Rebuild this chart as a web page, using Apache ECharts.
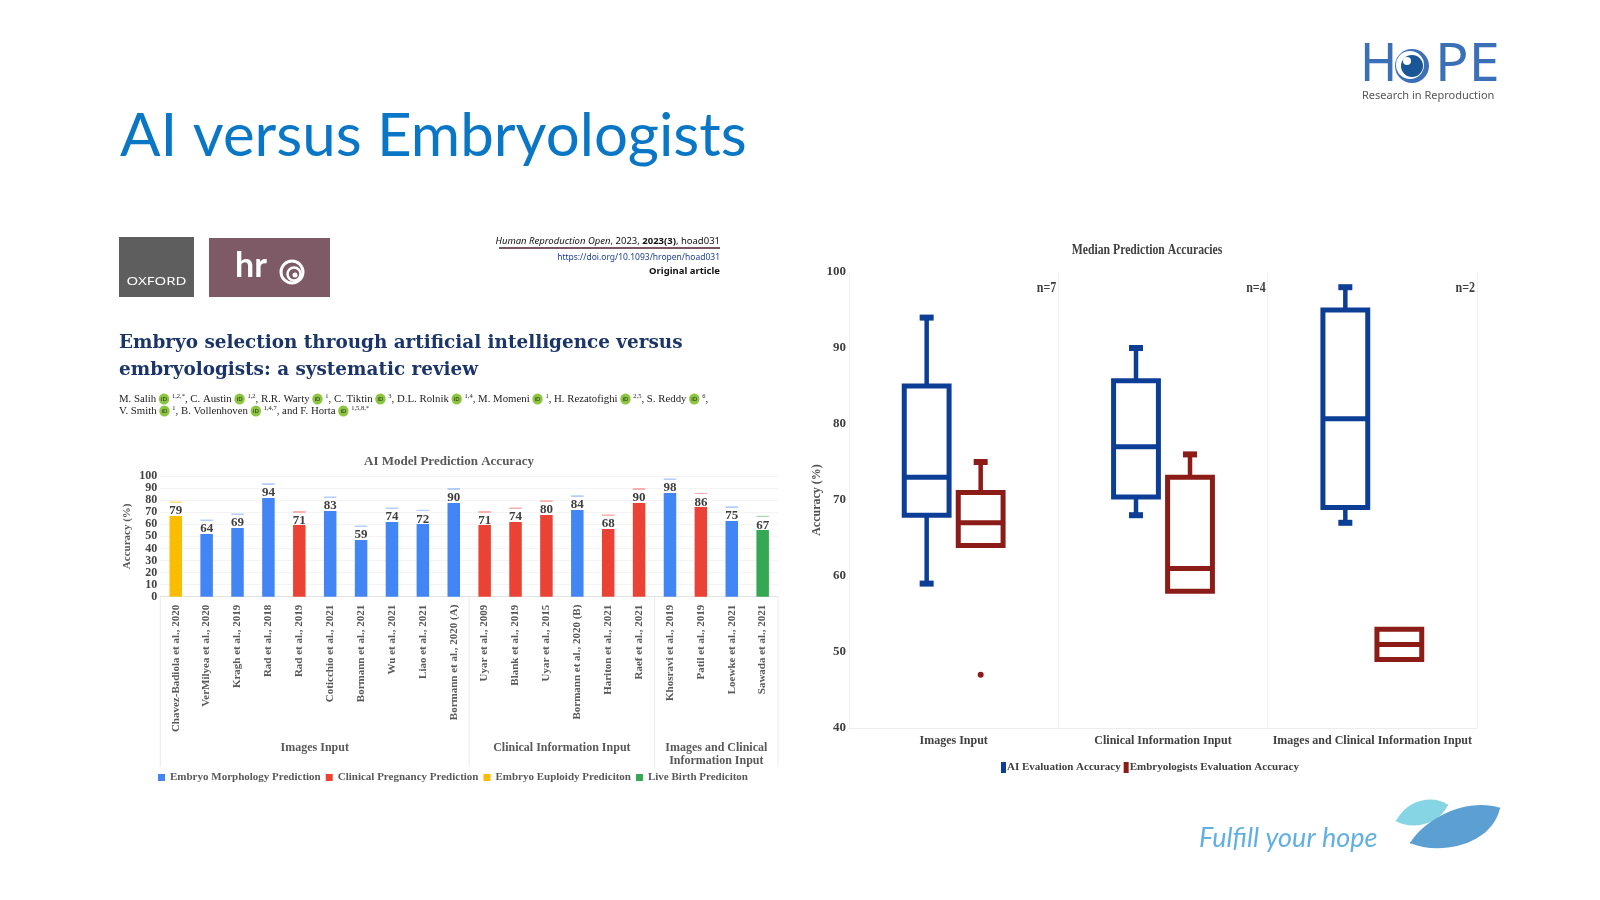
<!DOCTYPE html>
<html><head><meta charset="utf-8">
<script src="https://cdn.jsdelivr.net/npm/echarts@6/dist/echarts.min.js"></script>
<style>html,body{margin:0;padding:0;background:#fff}#c{width:1600px;height:900px}</style>
</head><body><div id="c"></div>
<script>
// ---------- DATA ----------
const studies = ['Chavez-Badiola et al., 2020','VerMilyea et al., 2020','Kragh et al., 2019','Rad et al., 2018','Rad et al., 2019','Coticchio et al., 2021','Bormann et al., 2021','Wu et al., 2021','Liao et al., 2021','Bormann et al., 2020 (A)','Uyar et al., 2009','Blank et al., 2019','Uyar et al., 2015','Bormann et al., 2020 (B)','Hariton et al., 2021','Raef et al., 2021','Khosravi et al., 2019','Patil et al., 2019','Loewke et al., 2021','Sawada et al., 2021'];
const accuracy = [79,64,69,94,71,83,59,74,72,90,71,74,80,84,68,90,98,86,75,67];
// 0 morphology, 1 clinical pregnancy, 2 euploidy, 3 live birth
const predictionType = [2,0,0,0,1,0,0,0,0,0,1,1,1,0,1,1,0,1,0,3];
const predictionNames = ['Embryo Morphology Prediction','Clinical Pregnancy Prediction','Embryo Euploidy Prediciton','Live Birth Prediciton'];
const inputGroups = ['Images Input','Clinical Information Input','Images and Clinical\nInformation Input'];
const groupRanges = [[0,9],[10,15],[16,19]];

const boxCategories = ['Images Input','Clinical Information Input','Images and Clinical Information Input'];
// [min, Q1, median, Q3, max]
const aiBox  = [[59,68,73,85,94],[68,70.4,77,85.7,90],[67,69,80.7,95,98]];
const embBox = [[64,64,67,71,75],[58,58,61,73,76],[49,49,51,53,53]];
const embOutliers = [[0,47]];
const sampleSizes = ['n=7','n=4','n=2'];

// ---------- STYLE ----------
const SERIF = "'Liberation Serif','Times New Roman',serif";
const typeColors = ['#4285F4','#EA4335','#FBBC04','#34A853'];
const typeLight  = ['#b3cefb','#f6b1ab','#fde293','#a8dab5'];
const AI_COLOR = '#0c3e96', EMB_COLOR = '#8b1c17';
const GAP = 12;

const chart = echarts.init(document.getElementById('c'), null, {renderer:'canvas', width:1600, height:900});

const barSeries = predictionNames.map((name, t) => ({
  type:'bar', name, xAxisIndex:0, yAxisIndex:0, barWidth:12.5, barGap:'-100%',
  data: accuracy.map((v,i) => predictionType[i] === t ? v : null),
  itemStyle: { color: p => new echarts.graphic.LinearGradient(0,0,0,1,[
    {offset:0, color:typeLight[t]}, {offset:1.3/p.value, color:typeLight[t]},
    {offset:1.3/p.value, color:'rgba(255,255,255,0)'}, {offset:GAP/p.value, color:'rgba(255,255,255,0)'},
    {offset:GAP/p.value, color:typeColors[t]}, {offset:1, color:typeColors[t]}]) },
  label: {show:true, position:'insideTop', distance:3, color:'#3f3f3f', fontFamily:SERIF, fontWeight:'bold', fontSize:13},
  emphasis:{disabled:true}
}));

function makeBoxRender(side, color) {
  return function (params, api) {
    const i = api.value(0);
    const band = api.size([1,0])[0];
    const cx = api.coord([i, api.value(3)])[0] + side * band * 0.129;
    const half = band * 0.119, lw = 5, capW = 14, capH = 6;
    const y = k => api.coord([i, api.value(k)])[1];
    const yMin = y(1), yQ1 = y(2), yMed = y(3), yQ3 = y(4), yMax = y(5);
    const ch = [];
    if (yMax < yQ3 - 1) {
      ch.push({type:'line', shape:{x1:cx,y1:yQ3,x2:cx,y2:yMax}, style:{stroke:color,lineWidth:4.5}});
      ch.push({type:'rect', shape:{x:cx-capW/2,y:yMax-capH/2,width:capW,height:capH}, style:{fill:color}});
    }
    if (yMin > yQ1 + 1) {
      ch.push({type:'line', shape:{x1:cx,y1:yQ1,x2:cx,y2:yMin}, style:{stroke:color,lineWidth:4.5}});
      ch.push({type:'rect', shape:{x:cx-capW/2,y:yMin-capH/2,width:capW,height:capH}, style:{fill:color}});
    }
    ch.push({type:'rect', shape:{x:cx-half+lw/2, y:yQ3, width:2*half-lw, height:yQ1-yQ3}, style:{fill:'none', stroke:color, lineWidth:lw}});
    ch.push({type:'line', shape:{x1:cx-half+lw/2, y1:yMed, x2:cx+half-lw/2, y2:yMed}, style:{stroke:color, lineWidth:lw}});
    return {type:'group', children:ch};
  };
}
function outlierRender(params, api) {
  const i = api.value(0);
  const band = api.size([1,0])[0];
  const p = api.coord([i, api.value(1)]);
  return {type:'circle', shape:{cx:p[0] + band*0.129, cy:p[1], r:3}, style:{fill:EMB_COLOR}};
}

const option = {
  backgroundColor:'#fff',
  animation:false,
  legend:[
    {data: predictionNames.map((n,t)=>({name:n, itemStyle:{color:typeColors[t]}})), left:153, top:767, icon:'rect', itemWidth:7, itemHeight:7, itemGap:5,
     textStyle:{fontFamily:SERIF, fontWeight:'bold', fontSize:11, color:'#595959'}, selectedMode:false},
    {data:[{name:'AI Evaluation Accuracy', itemStyle:{color:AI_COLOR}},{name:'Embryologists Evaluation Accuracy', itemStyle:{color:EMB_COLOR}}],
     left:996, top:757, icon:'rect', itemWidth:5, itemHeight:11, itemGap:3,
     textStyle:{fontFamily:SERIF, fontWeight:'bold', fontSize:11, color:'#404040', padding:[0,0,0,-4]}, selectedMode:false}
  ],
  grid:[
    {left:160.3, right:821.9, top:476, bottom:303.3},
    {left:849, right:123, top:272, bottom:172}
  ],
  xAxis:[
    {gridIndex:0, type:'category', data:studies, axisTick:{show:false}, axisLine:{lineStyle:{color:'#e3e3e3'}},
     axisLabel:{interval:0, rotate:90, margin:8, fontFamily:SERIF, fontWeight:'bold', fontSize:11, color:'#595959'}},
    {gridIndex:1, type:'category', data:boxCategories, axisTick:{show:false}, axisLine:{lineStyle:{color:'#ececec'}},
     splitLine:{show:true, lineStyle:{color:'#f1f1f1'}},
     axisLabel:{interval:0, margin:7, fontFamily:SERIF, fontWeight:'bold', fontSize:12, color:'#404040'}}
  ],
  yAxis:[
    {gridIndex:0, type:'value', min:0, max:100, interval:10, axisLine:{show:false}, axisTick:{show:false},
     splitLine:{lineStyle:{color:'#f4f4f4'}},
     axisLabel:{margin:3, fontFamily:SERIF, fontWeight:'bold', fontSize:12, color:'#434343'},
     name:'Accuracy (%)', nameLocation:'middle', nameGap:28,
     nameTextStyle:{fontFamily:SERIF, fontWeight:'bold', fontSize:11, color:'#595959'}},
    {gridIndex:1, type:'value', min:40, max:100, interval:10, axisLine:{show:false}, axisTick:{show:false},
     splitLine:{show:false},
     axisLabel:{margin:3, fontFamily:SERIF, fontWeight:'bold', fontSize:13, color:'#404040'},
     name:'Accuracy (%)', nameLocation:'middle', nameGap:20,
     nameTextStyle:{fontFamily:SERIF, fontWeight:'bold', fontSize:12, color:'#505050'}}
  ],
  series: barSeries.concat([
    {type:'custom', name:'AI Evaluation Accuracy', xAxisIndex:1, yAxisIndex:1, renderItem:makeBoxRender(-1, AI_COLOR),
     data: aiBox.map((b,i)=>[i].concat(b)), encode:{x:0, y:[1,2,3,4,5]}, itemStyle:{color:AI_COLOR}, z:3},
    {type:'custom', name:'Embryologists Evaluation Accuracy', xAxisIndex:1, yAxisIndex:1, renderItem:makeBoxRender(1, EMB_COLOR),
     data: embBox.map((b,i)=>[i].concat(b)), encode:{x:0, y:[1,2,3,4,5]}, itemStyle:{color:EMB_COLOR}, z:3},
    {type:'custom', name:'Embryologists Evaluation Accuracy', xAxisIndex:1, yAxisIndex:1, renderItem:outlierRender,
     data: embOutliers, encode:{x:0, y:1}, itemStyle:{color:EMB_COLOR}, z:3}
  ])
};
chart.setOption(option);

// ---------- positioned decorations ----------
const px0 = i => chart.convertToPixel({xAxisIndex:0}, i);
const band0 = px0(1) - px0(0);
const axisY0 = chart.convertToPixel({yAxisIndex:0}, 0);
const px1 = i => chart.convertToPixel({xAxisIndex:1}, i);
const band1 = px1(1) - px1(0);
const nY = chart.convertToPixel({yAxisIndex:1}, 97.9);

const g = [];
const sepX = groupRanges.map(r => px0(r[0]) - band0/2).concat([px0(groupRanges[2][1]) + band0/2]);
sepX.forEach((x,k) => g.push({type:'line', id:'sep'+k, shape:{x1:x,y1:axisY0,x2:x,y2:767}, style:{stroke:'#ececec', lineWidth:1}, silent:true}));
groupRanges.forEach((r,k) => g.push({type:'text', id:'grp'+k, style:{text:inputGroups[k], x:(px0(r[0])+px0(r[1]))/2, y:741, align:'center', verticalAlign:'top',
  font:"bold 12px " + SERIF, fill:'#595959', lineHeight:13}}));
sampleSizes.forEach((s,k) => { const x = px1(k)+band1/2-2; g.push({type:'text', id:'n'+k, x:x, y:nY, scaleX:0.8,
  style:{text:s, x:0, y:0, align:'right', verticalAlign:'middle', font:"bold 15px " + SERIF, fill:'#404040'}}); });
// chart titles
g.push({type:'text', id:'t1', style:{text:'AI Model Prediction Accuracy', x:449, y:462, align:'center', verticalAlign:'middle', font:"bold 13px "+SERIF, fill:'#595959'}});
g.push({type:'text', id:'t2', x:1147, y:250, scaleX:0.78, style:{text:'Median Prediction Accuracies', x:0, y:0, align:'center', verticalAlign:'middle', font:"bold 15px "+SERIF, fill:'#404040'}});

// slide title
g.push({type:'text', id:'title', style:{text:'AI versus Embryologists', x:120, y:137, verticalAlign:'middle', font:"60px Lato", fill:'#0a77c6'}});
// HOPE logo
g.push({type:'text', id:'hH', x:1360, y:66, scaleX:0.95, style:{text:'H', x:0, y:0, verticalAlign:'middle', font:"53px 'Noto Sans'", fill:'#3b6fb6'}});
g.push({type:'circle', id:'e1', shape:{cx:1412, cy:66, r:17}, style:{fill:'#3b6fb6'}});
g.push({type:'circle', id:'e2', shape:{cx:1410, cy:65, r:14}, style:{fill:'#fff'}});
g.push({type:'circle', id:'e3', shape:{cx:1412, cy:66, r:11}, style:{fill:'#1a5595'}});
g.push({type:'circle', id:'e4', shape:{cx:1407, cy:61, r:4}, style:{fill:'#fff'}});
g.push({type:'text', id:'hPE', x:1435, y:66, scaleX:1.05, style:{text:'PE', x:0, y:0, verticalAlign:'middle', font:"53px 'Noto Sans'", fill:'#3b6fb6'}});
g.push({type:'text', id:'hR', style:{text:'Research in Reproduction', x:1362, y:96, verticalAlign:'middle', font:"11px 'Noto Sans'", fill:'#555'}});

// publisher boxes
g.push({type:'rect', id:'ox', shape:{x:119, y:237, width:75, height:60}, style:{fill:'#5e5e5e'}});
g.push({type:'text', id:'oxt', x:156.5, y:282, scaleX:1.5, style:{text:'OXFORD', x:0, y:0, align:'center', verticalAlign:'middle', font:"10px 'Noto Sans'", fill:'#fff'}});
g.push({type:'rect', id:'hro', shape:{x:209, y:238, width:121, height:59}, style:{fill:'#7e5a66'}});
g.push({type:'text', id:'hrot', style:{text:'hr', x:235, y:266, verticalAlign:'middle', font:"bold 34px Lato", fill:'#fff'}});
g.push({type:'circle', id:'s1', shape:{cx:292, cy:272, r:11}, style:{fill:'none', stroke:'#fff', lineWidth:3}});
g.push({type:'circle', id:'s2', shape:{cx:294, cy:274, r:6.5}, style:{fill:'none', stroke:'#fff', lineWidth:2.5}});
g.push({type:'circle', id:'s3', shape:{cx:295, cy:275, r:2.5}, style:{fill:'#fff'}});

// journal header
g.push({type:'text', id:'j1', style:{text:'{i|Human Reproduction Open}, 2023, {b|2023(3)}, hoad031', x:720, y:241, align:'right', verticalAlign:'middle',
  font:"9.5px 'Noto Sans'", fill:'#111', rich:{i:{fontStyle:'italic', fontSize:9.5, fontFamily:'Noto Sans'}, b:{fontWeight:'bold', fontSize:9.5, fontFamily:'Noto Sans'}}}});
g.push({type:'line', id:'j2', shape:{x1:499, y1:248, x2:720, y2:248}, style:{stroke:'#7b5563', lineWidth:2}});
g.push({type:'text', id:'j3', style:{text:'https://doi.org/10.1093/hropen/hoad031', x:720, y:258, align:'right', verticalAlign:'middle', font:"8.5px 'Noto Sans'", fill:'#1d3f8f'}});
g.push({type:'text', id:'j4', style:{text:'Original article', x:720, y:271, align:'right', verticalAlign:'middle', font:"bold 9.5px 'Noto Sans'", fill:'#111'}});

// article title
g.push({type:'text', id:'a1', style:{text:'Embryo selection through artificial intelligence versus\nembryologists: a systematic review', x:119, y:329, verticalAlign:'top',
  font:"bold 18.4px 'DejaVu Serif'", lineHeight:27.5, fill:'#1c3569'}});
// authors
const idRich = {id:{backgroundColor:'#8cc63f', color:'#fff', borderRadius:5.5, fontSize:6, padding:[2.5,2.2,2.5,2.2], fontFamily:'Noto Sans'},
  s:{fontSize:6.5, verticalAlign:'top', fontFamily:SERIF, padding:[0,0,4,0]}};
g.push({type:'text', id:'au', style:{text:
  'M. Salih {id|iD} {s|1,2,*}, C. Austin {id|iD} {s|1,2}, R.R. Warty {id|iD} {s|1}, C. Tiktin {id|iD} {s|3}, D.L. Rolnik {id|iD} {s|1,4}, M. Momeni {id|iD} {s|1}, H. Rezatofighi {id|iD} {s|2,5}, S. Reddy {id|iD} {s|6},\nV. Smith {id|iD} {s|1}, B. Vollenhoven {id|iD} {s|1,4,7}, and F. Horta {id|iD} {s|1,5,8,*}',
  x:119, y:393, verticalAlign:'top', font:"10.8px "+SERIF, fill:'#222', lineHeight:12, rich:idRich}});

// footer
g.push({type:'text', id:'ft', style:{text:'Fulfill your hope', x:1199, y:838, verticalAlign:'middle', font:"italic 27px Lato", fill:'#62b0e2'}});
g.push({type:'bezierCurve', id:'l1a', shape:{x1:1396, y1:821, x2:1448, y2:805, cpx1:1408, cpy1:798, cpx2:1435, cpy2:795}, style:{fill:'#86d5e5', stroke:null}});
g.push({type:'bezierCurve', id:'l1b', shape:{x1:1396, y1:821, x2:1448, y2:805, cpx1:1410, cpy1:830, cpx2:1438, cpy2:826}, style:{fill:'#86d5e5', stroke:null}});
g.push({type:'line', id:'l1c', shape:{x1:1396, y1:821, x2:1448, y2:805}, style:{stroke:'#86d5e5', lineWidth:1.5}});
g.push({type:'bezierCurve', id:'l2a', shape:{x1:1410, y1:843, x2:1500, y2:808, cpx1:1428, cpy1:815, cpx2:1470, cpy2:798}, style:{fill:'#5b9fd3', stroke:null}});
g.push({type:'bezierCurve', id:'l2b', shape:{x1:1410, y1:843, x2:1500, y2:808, cpx1:1440, cpy1:856, cpx2:1492, cpy2:845}, style:{fill:'#5b9fd3', stroke:null}});
g.push({type:'line', id:'l2c', shape:{x1:1410, y1:843, x2:1500, y2:808}, style:{stroke:'#5b9fd3', lineWidth:1.5}});

chart.setOption({graphic: g});
</script></body></html>
